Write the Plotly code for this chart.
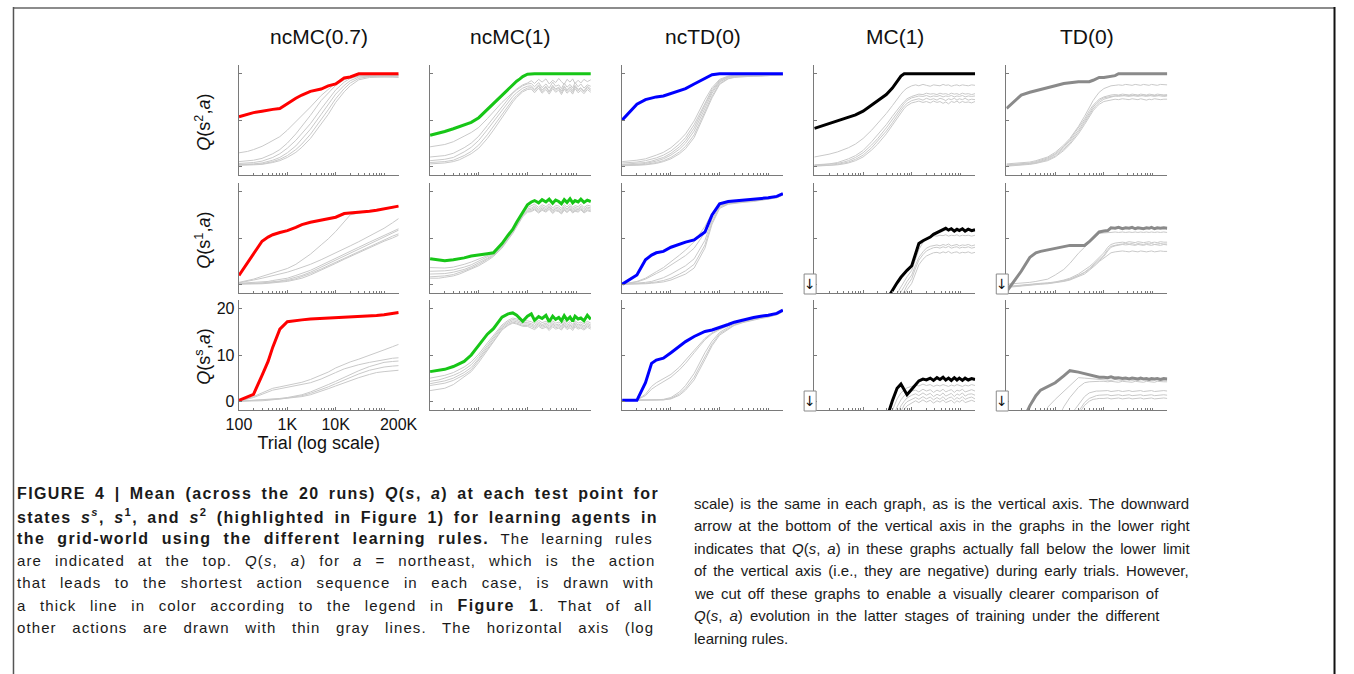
import math
import re
import plotly.graph_objects as go

W, H = 1354, 674

# ---------------- x grids (trial number) ----------------
T_A = [100, 150, 200, 300, 400, 500, 700, 1000, 1500, 2000, 3000, 5000, 7000, 10000,
       15000, 20000, 30000, 50000, 70000, 100000, 150000, 200000]
T_B = [100, 150, 200, 300, 400, 500, 700, 1000, 1500, 2000, 3000, 4000, 5000, 6000, 7000, 8000, 10000,
       12000, 14000, 17000, 20000, 24000, 28000, 33000, 38000, 44000, 50000,
       57000, 65000, 75000, 85000, 95000, 110000, 125000, 145000, 170000, 200000]

rules = ["ncMC(0.7)", "ncMC(1)", "ncTD(0)", "MC(1)", "TD(0)"]
rule_colors = ["#ff0000", "#17c617", "#0000ff", "#000000", "#8a8a8a"]
state_labels = ["<i>Q</i>(s<sup>2</sup>,<i>a</i>)", "<i>Q</i>(s<sup>1</sup>,<i>a</i>)", "<i>Q</i>(s<sup>s</sup>,<i>a</i>)"]
x_ticks = [100, 1000, 10000, 200000]
x_ticktext = ["100", "1K", "10K", "200K"]
y_ticks = [0, 10, 20]

# ---------------- row 1 : state s2 ----------------
ncmc07_s2_main = [10.7, 11.2, 11.6, 11.9, 12.2, 12.3, 12.5, 13.6, 14.7, 15.4, 16.2, 16.7, 17.4, 17.8, 19.1, 19.3, 20, 20, 20, 20, 20, 20]
ncmc07_s2_other = [
    [2.9, 3.2, 3.6, 4.3, 5.0, 5.6, 6.4, 7.8, 9.6, 11.0, 12.8, 15.3, 16.6, 18.0, 19.0, 19.4, 19.6, 19.7, 19.7, 19.7, 19.7, 19.7],
    [1.0, 1.1, 1.3, 1.7, 2.2, 2.7, 3.6, 5.0, 7.0, 8.6, 11.0, 14.2, 15.9, 17.5, 18.7, 19.2, 19.6, 19.8, 19.8, 19.8, 19.8, 19.8],
    [0.6, 0.7, 0.8, 1.1, 1.5, 1.9, 2.7, 3.9, 5.6, 7.0, 9.2, 12.4, 14.5, 16.5, 18.2, 19.0, 19.5, 19.7, 19.7, 19.7, 19.7, 19.6],
    [0.4, 0.4, 0.5, 0.7, 1.0, 1.3, 1.9, 2.9, 4.4, 5.8, 8.0, 11.2, 13.4, 15.6, 17.5, 18.5, 19.3, 19.5, 19.5, 19.5, 19.5, 19.5],
    [0.3, 0.3, 0.4, 0.5, 0.7, 1.0, 1.5, 2.3, 3.6, 4.8, 6.9, 10.0, 12.2, 14.6, 16.8, 18.0, 19.0, 19.4, 19.4, 19.4, 19.3, 19.3],
    [0.2, 0.2, 0.3, 0.4, 0.6, 0.8, 1.2, 1.9, 3.0, 4.1, 6.0, 9.0, 11.2, 13.8, 16.1, 17.4, 18.7, 19.2, 19.3, 19.3, 19.3, 19.2],
]

ncmc1_s2_main = [6.7, 7.1, 7.5, 8.1, 8.6, 9.0, 9.5, 10.5, 12.3, 13.6, 15.4, 16.6, 17.7, 18.4, 18.9, 19.4, 19.9,
                 20, 20, 20, 20, 20, 20, 20, 20, 20, 20, 20, 20, 20, 20, 20, 20, 20, 20, 20, 20]
ncmc1_s2_other = [
    [4.2, 4.4, 4.7, 5.3, 5.9, 6.5, 7.3, 8.4, 10.3, 11.8, 13.8, 15.0, 16.0, 16.7, 17.2, 17.6, 18.0,
     18.5, 17.9, 18.8, 18.2, 18.9, 17.8, 18.6, 18.1, 19.0, 18.3, 17.7, 18.8, 18.2, 18.9, 17.9, 18.6, 18.0, 18.8, 18.3, 18.7],
    [2.0, 2.1, 2.3, 2.8, 3.4, 4.0, 5.0, 6.5, 8.8, 10.5, 13.0, 14.6, 15.8, 16.5, 17.0, 17.4, 17.8,
     17.9, 17.2, 18.1, 17.0, 17.8, 16.9, 18.2, 17.3, 17.6, 16.8, 18.0, 17.1, 17.7, 16.9, 18.1, 17.2, 17.8, 16.9, 17.6, 17.3],
    [1.2, 1.3, 1.5, 1.9, 2.5, 3.1, 4.1, 5.6, 7.9, 9.6, 12.2, 13.9, 15.1, 15.9, 16.4, 16.9, 17.3,
     17.4, 16.6, 17.6, 16.5, 17.3, 16.2, 17.5, 16.7, 17.1, 16.3, 17.4, 16.5, 17.2, 16.4, 17.5, 16.6, 17.0, 16.3, 17.3, 16.7],
    [0.8, 0.9, 1.0, 1.3, 1.8, 2.3, 3.2, 4.6, 6.8, 8.6, 11.3, 13.1, 14.4, 15.3, 15.9, 16.4, 16.9,
     17.0, 16.3, 17.3, 16.1, 17.1, 16.0, 17.2, 16.4, 16.9, 15.9, 17.1, 16.2, 16.8, 16.0, 17.2, 16.3, 16.8, 16.1, 17.0, 16.4],
    [0.5, 0.6, 0.7, 1.0, 1.4, 1.9, 2.7, 3.9, 6.0, 7.8, 10.6, 12.5, 13.9, 14.9, 15.5, 16.1, 16.6,
     16.7, 15.9, 16.9, 15.8, 16.6, 15.6, 16.8, 16.0, 16.5, 15.5, 16.7, 15.8, 16.4, 15.6, 16.8, 15.9, 16.4, 15.7, 16.6, 16.0],
]

nctd0_s2_main = [10.0, 12.0, 13.4, 14.4, 14.8, 15.0, 15.2, 15.7, 16.3, 16.8, 17.8, 19.0, 19.8, 20, 20, 20, 20, 20, 20, 20, 20, 20]
nctd0_s2_other = [
    [1.0, 1.1, 1.3, 1.6, 2.0, 2.4, 3.0, 4.0, 5.6, 7.0, 9.8, 14.4, 17.0, 18.8, 19.5, 19.7, 19.8, 19.8, 19.8, 19.8, 19.8, 19.8],
    [0.7, 0.8, 0.9, 1.2, 1.5, 1.8, 2.4, 3.3, 4.8, 6.2, 9.0, 13.8, 16.6, 18.6, 19.4, 19.6, 19.7, 19.7, 19.7, 19.7, 19.7, 19.8],
    [0.4, 0.5, 0.6, 0.8, 1.1, 1.4, 1.9, 2.8, 4.2, 5.6, 8.3, 13.2, 16.2, 18.4, 19.3, 19.5, 19.6, 19.6, 19.6, 19.7, 19.7, 19.8],
    [0.3, 0.3, 0.4, 0.6, 0.8, 1.1, 1.6, 2.4, 3.7, 5.0, 7.6, 12.6, 15.8, 18.2, 19.2, 19.4, 19.5, 19.6, 19.6, 19.6, 19.7, 19.8],
    [0.2, 0.2, 0.3, 0.4, 0.6, 0.8, 1.2, 1.9, 3.1, 4.3, 6.8, 11.8, 15.2, 17.9, 19.0, 19.3, 19.5, 19.5, 19.6, 19.6, 19.7, 19.8],
    [0.1, 0.1, 0.2, 0.3, 0.4, 0.6, 1.0, 1.6, 2.7, 3.8, 6.2, 11.2, 14.8, 17.7, 18.9, 19.2, 19.4, 19.5, 19.5, 19.6, 19.6, 19.8],
]

mc1_s2_main = [8.2, 8.8, 9.2, 9.8, 10.2, 10.5, 11.1, 11.9, 13.2, 14.2, 15.5, 16.9, 18.2, 19.5, 20, 20, 20,
               20, 20, 20, 20, 20, 20, 20, 20, 20, 20, 20, 20, 20, 20, 20, 20, 20, 20, 20, 20]
mc1_s2_other = [
    [2.0, 2.3, 2.6, 3.1, 3.6, 4.0, 4.8, 6.0, 7.8, 9.2, 11.4, 13.1, 14.6, 15.6, 16.4, 16.9, 17.4,
     17.6, 17.4, 17.7, 17.5, 17.3, 17.6, 17.5, 17.4, 17.7, 17.5, 17.6, 17.3, 17.5, 17.6, 17.4, 17.6, 17.5, 17.4, 17.6, 17.5],
    [0.3, 0.4, 0.5, 0.8, 1.2, 1.6, 2.3, 3.4, 5.3, 6.8, 9.0, 10.8, 12.2, 13.2, 14.0, 14.6, 15.1,
     15.4, 15.6, 15.5, 15.8, 15.6, 15.7, 15.5, 15.8, 15.6, 15.7, 15.5, 15.8, 15.6, 15.7, 15.5, 15.8, 15.6, 15.7, 15.5, 15.7],
    [0.2, 0.3, 0.4, 0.6, 0.9, 1.2, 1.9, 2.9, 4.6, 6.0, 8.3, 10.1, 11.6, 12.7, 13.6, 14.2, 14.8,
     15.0, 15.2, 15.1, 15.3, 15.0, 15.2, 15.1, 15.3, 15.0, 15.2, 15.1, 15.3, 15.0, 15.2, 15.1, 15.3, 15.0, 15.2, 15.1, 15.2],
    [0.1, 0.1, 0.2, 0.4, 0.6, 0.9, 1.5, 2.4, 4.0, 5.4, 7.6, 9.4, 11.0, 12.1, 13.0, 13.6, 14.2,
     14.4, 14.6, 14.3, 14.7, 14.4, 14.6, 14.3, 14.7, 14.5, 14.2, 14.6, 14.4, 14.7, 14.3, 14.6, 14.4, 14.7, 14.3, 14.5, 14.4],
    [0.0, 0.1, 0.1, 0.3, 0.5, 0.7, 1.2, 2.0, 3.5, 4.8, 7.0, 8.8, 10.4, 11.6, 12.5, 13.1, 13.7,
     13.9, 14.1, 13.8, 14.0, 13.7, 14.1, 13.8, 14.0, 13.6, 13.9, 13.5, 14.0, 13.8, 14.1, 13.7, 14.0, 13.8, 13.9, 13.7, 14.0],
]

td0_s2_main = [12.5, 14.2, 15.4, 16.0, 16.3, 16.6, 17.0, 17.4, 17.9, 18.1, 18.3, 18.3, 18.3, 18.6, 18.9, 19.2, 19.2,
               19.3, 19.4, 19.6, 20, 20, 20, 20, 20, 20, 20, 20, 20, 20, 20, 20, 20, 20, 20, 20, 20]
td0_s2_other = [
    [0.5, 0.6, 0.7, 0.9, 1.2, 1.5, 2.0, 3.0, 4.6, 6.0, 8.6, 10.8, 12.8, 14.2, 15.2, 16.0, 16.8,
     17.2, 17.4, 17.5, 17.6, 17.5, 17.7, 17.6, 17.5, 17.7, 17.6, 17.5, 17.7, 17.6, 17.5, 17.7, 17.6, 17.5, 17.7, 17.6, 17.6],
    [0.3, 0.4, 0.5, 0.7, 1.0, 1.3, 1.8, 2.7, 4.3, 5.7, 8.2, 10.2, 12.0, 13.2, 13.9, 14.5, 15.0,
     15.3, 15.4, 15.5, 15.4, 15.6, 15.5, 15.4, 15.6, 15.5, 15.4, 15.6, 15.5, 15.4, 15.6, 15.5, 15.4, 15.6, 15.5, 15.4, 15.5],
    [0.2, 0.3, 0.4, 0.6, 0.8, 1.1, 1.6, 2.5, 4.0, 5.4, 7.8, 9.8, 11.6, 12.8, 13.6, 14.2, 14.8,
     15.0, 15.1, 15.2, 15.1, 15.3, 15.2, 15.1, 15.3, 15.2, 15.1, 15.3, 15.2, 15.1, 15.3, 15.2, 15.1, 15.3, 15.2, 15.1, 15.2],
    [0.1, 0.2, 0.3, 0.5, 0.7, 1.0, 1.4, 2.2, 3.7, 5.0, 7.4, 9.4, 11.2, 12.4, 13.2, 13.8, 14.5,
     14.8, 15.0, 15.2, 15.3, 15.2, 15.4, 15.3, 15.2, 15.4, 15.3, 15.2, 15.4, 15.3, 15.2, 15.4, 15.3, 15.2, 15.4, 15.3, 15.3],
    [0.0, 0.1, 0.2, 0.4, 0.6, 0.8, 1.2, 2.0, 3.4, 4.7, 7.0, 9.0, 10.8, 12.0, 12.8, 13.4, 14.0,
     14.2, 14.4, 14.5, 14.4, 14.6, 14.5, 14.4, 14.6, 14.5, 14.4, 14.6, 14.5, 14.3, 14.5, 14.4, 14.6, 14.5, 14.4, 14.5, 14.5],
]

# ---------------- row 2 : state s1 ----------------
ncmc07_s1_main = [1.9, 4.6, 6.5, 9.3, 10.2, 10.7, 11.2, 11.6, 12.3, 12.9, 13.4, 13.8, 14.1, 14.5, 15.3, 15.4, 15.5, 15.8, 16.0, 16.3, 16.6, 16.9]
ncmc07_s1_other = [
    [0.4, 0.8, 1.1, 1.7, 2.1, 2.5, 2.9, 3.4, 4.3, 5.2, 6.5, 8.5, 9.8, 11.4, 13.6, 15.0, 15.4, 15.7, 15.9, 16.2, 16.5, 16.8],
    [0.3, 0.6, 0.9, 1.3, 1.6, 1.9, 2.2, 2.6, 3.2, 3.6, 4.3, 5.3, 6.0, 6.7, 7.6, 8.3, 9.2, 10.4, 11.2, 12.1, 13.3, 14.2],
    [0.2, 0.3, 0.4, 0.5, 0.6, 0.8, 1.0, 1.3, 1.9, 2.3, 3.0, 4.1, 4.8, 5.6, 6.5, 7.1, 8.0, 9.1, 9.8, 10.6, 11.4, 12.0],
    [0.1, 0.1, 0.2, 0.3, 0.4, 0.5, 0.7, 1.0, 1.5, 1.9, 2.6, 3.7, 4.4, 5.2, 6.1, 6.7, 7.6, 8.7, 9.4, 10.2, 11.1, 11.7],
    [0.1, 0.1, 0.1, 0.2, 0.3, 0.4, 0.6, 0.8, 1.2, 1.6, 2.3, 3.3, 4.0, 4.8, 5.7, 6.3, 7.1, 8.1, 8.8, 9.6, 10.4, 10.9],
    [0.0, 0.0, 0.1, 0.1, 0.2, 0.3, 0.4, 0.6, 1.0, 1.3, 2.0, 3.0, 3.7, 4.5, 5.4, 6.0, 6.8, 7.8, 8.5, 9.3, 10.0, 10.6],
]

ncmc1_s1_main = [5.5, 5.3, 5.1, 5.3, 5.5, 5.7, 6.1, 6.4, 6.6, 6.8, 8.8, 10.6, 11.9, 13.4, 14.6, 15.7, 17.2,
                 17.8, 18.1, 17.6, 18.3, 17.8, 18.4, 17.5, 18.2, 17.9, 17.4, 18.3, 17.7, 18.5, 17.6, 18.1, 17.8, 18.4, 17.7, 18.2, 17.9]
ncmc1_s1_other = [
    [3.6, 3.5, 3.5, 3.7, 4.0, 4.3, 4.8, 5.4, 6.2, 6.9, 8.6, 10.3, 11.8, 13.2, 14.5, 15.5, 16.6,
     16.9, 17.3, 16.6, 17.2, 16.8, 17.4, 16.5, 17.1, 16.9, 16.4, 17.2, 16.7, 17.3, 16.6, 17.0, 16.8, 17.3, 16.6, 17.1, 16.9],
    [2.8, 2.8, 2.9, 3.1, 3.4, 3.7, 4.2, 5.0, 5.9, 6.6, 8.4, 10.1, 11.6, 13.0, 14.2, 15.2, 16.3,
     16.5, 16.9, 16.2, 16.8, 16.4, 17.0, 16.1, 16.7, 16.5, 16.0, 16.8, 16.3, 16.9, 16.2, 16.6, 16.4, 16.9, 16.2, 16.7, 16.5],
    [2.2, 2.2, 2.3, 2.6, 2.9, 3.2, 3.8, 4.6, 5.6, 6.4, 8.2, 9.9, 11.4, 12.8, 14.0, 15.0, 16.0,
     16.2, 16.6, 15.9, 16.5, 16.1, 16.7, 15.8, 16.4, 16.2, 15.7, 16.5, 16.0, 16.6, 15.9, 16.3, 16.1, 16.6, 15.9, 16.4, 16.2],
    [1.6, 1.7, 1.8, 2.1, 2.5, 2.9, 3.5, 4.3, 5.4, 6.2, 8.0, 9.7, 11.2, 12.6, 13.8, 14.8, 15.8,
     15.9, 16.3, 15.6, 16.2, 15.8, 16.4, 15.5, 16.1, 15.9, 15.4, 16.2, 15.7, 16.3, 15.6, 16.0, 15.8, 16.3, 15.6, 16.1, 15.9],
    [1.3, 1.3, 1.5, 1.8, 2.2, 2.6, 3.2, 4.0, 5.1, 6.0, 7.8, 9.5, 11.0, 12.4, 13.6, 14.6, 15.6,
     15.7, 16.1, 15.4, 16.0, 15.6, 16.2, 15.3, 15.9, 15.7, 15.2, 16.0, 15.5, 16.1, 15.4, 15.8, 15.6, 16.1, 15.4, 15.9, 15.7],
]

nctd0_s1_main = [0.0, 1.2, 2.0, 5.3, 6.3, 6.8, 7.1, 8.0, 8.7, 9.1, 9.6, 11.3, 15.0, 17.4, 17.9, 18.0, 18.2, 18.3, 18.5, 18.7, 19.0, 19.6]
nctd0_s1_other = [
    [0.0, 0.3, 0.6, 1.3, 2.0, 2.7, 3.6, 4.8, 6.3, 7.4, 9.2, 12.5, 15.4, 17.2, 17.7, 17.8, 18.0, 18.2, 18.4, 18.6, 18.9, 19.5],
    [0.0, 0.2, 0.5, 1.1, 1.7, 2.3, 3.1, 4.1, 5.3, 6.2, 7.8, 11.2, 14.8, 17.0, 17.6, 17.7, 17.9, 18.1, 18.3, 18.5, 18.8, 19.4],
    [0.0, 0.1, 0.2, 0.4, 0.6, 0.9, 1.4, 2.2, 3.2, 4.0, 5.5, 9.5, 14.0, 16.8, 17.5, 17.7, 17.9, 18.1, 18.3, 18.5, 18.8, 19.4],
    [0.0, 0.0, 0.1, 0.2, 0.3, 0.5, 0.8, 1.3, 2.2, 2.9, 4.3, 8.5, 13.4, 16.6, 17.4, 17.6, 17.8, 18.0, 18.2, 18.4, 18.7, 19.3],
    [0.0, 0.0, 0.0, 0.1, 0.2, 0.3, 0.5, 0.9, 1.6, 2.2, 3.5, 7.8, 13.0, 16.4, 17.3, 17.5, 17.7, 17.9, 18.1, 18.3, 18.7, 19.3],
]

mc1_s1_main = [-30, -28, -26, -23, -21, -19, -16, -13, -10, -7.5, -3.5, -1.2, 0.3, 1.5, 2.4, 3.0, 4.0,
               6.5, 8.8, 9.4, 9.8, 10.2, 10.8, 11.2, 11.6, 11.9, 12.1, 11.7, 12.0, 11.5, 11.9, 11.6, 12.0, 11.5, 11.9, 11.6, 11.8]
mc1_s1_other = [
    [-40, -37, -34, -30, -27, -24, -20, -16, -12, -9.5, -6, -3.8, -2, -0.6, 0.5, 1.6, 3.0,
     5.5, 7.5, 9.0, 9.8, 10.3, 10.5, 10.4, 10.6, 10.5, 10.7, 10.4, 10.6, 10.5, 10.7, 10.4, 10.6, 10.5, 10.6, 10.4, 10.6],
    [-40, -37, -34, -30, -27, -24, -20, -16, -12, -10, -7, -4.8, -3, -1.6, -0.5, 0.6, 2.0,
     4.2, 5.8, 7.0, 7.8, 8.2, 8.4, 8.5, 8.3, 8.6, 8.4, 8.7, 8.3, 8.5, 8.6, 8.3, 8.5, 8.4, 8.6, 8.3, 8.5],
    [-40, -37, -34, -30, -27, -24, -20, -17, -13, -11, -8, -5.8, -4, -2.6, -1.5, -0.3, 1.2,
     3.5, 5.2, 6.4, 7.2, 7.6, 7.9, 8.0, 7.8, 8.1, 7.9, 8.2, 7.8, 8.0, 8.1, 7.8, 8.0, 7.9, 8.1, 7.8, 8.0],
    [-40, -37, -34, -30, -27, -24, -21, -18, -14, -12, -9, -6.8, -5, -3.6, -2.5, -1.2, 0.2,
     2.5, 4.2, 5.4, 6.1, 6.5, 6.8, 6.9, 6.7, 7.0, 6.8, 7.1, 6.7, 6.9, 7.0, 6.7, 6.9, 6.8, 7.0, 6.7, 6.9],
]

td0_s1_main = [-1.6, 1.0, 2.8, 5.8, 6.8, 7.1, 7.4, 7.7, 8.1, 8.4, 8.4, 8.4, 9.2, 10.0, 10.9, 11.3, 11.5,
               11.6, 12.2, 12.1, 12.3, 12.0, 12.2, 12.1, 12.3, 12.0, 12.2, 12.1, 12.0, 12.2, 12.1, 12.3, 12.0, 12.2, 12.1, 12.2, 12.1]
td0_s1_other = [
    [0.0, 0.1, 0.2, 0.4, 0.6, 0.8, 1.1, 2.0, 3.2, 4.5, 6.7, 8.0, 9.0, 9.8, 10.5, 11.0, 11.1,
     11.1, 11.2, 11.3, 11.2, 11.3, 11.2, 11.3, 11.2, 11.3, 11.2, 11.3, 11.2, 11.3, 11.2, 11.3, 11.2, 11.3, 11.2, 11.3, 11.2],
    [-0.5, -0.3, -0.1, 0.0, 0.1, 0.2, 0.3, 0.5, 0.9, 1.3, 2.2, 3.0, 3.8, 4.5, 5.2, 5.8, 6.8,
     8.0, 8.6, 8.9, 9.0, 9.1, 9.0, 9.2, 9.1, 9.0, 9.2, 9.1, 9.0, 9.1, 9.2, 9.0, 9.1, 9.0, 9.2, 9.1, 9.1],
    [-0.6, -0.4, -0.2, -0.1, 0.0, 0.1, 0.2, 0.4, 0.8, 1.1, 1.9, 2.6, 3.4, 4.1, 4.8, 5.4, 6.3,
     7.5, 8.2, 8.5, 8.6, 8.7, 8.8, 8.7, 8.8, 8.6, 8.8, 8.7, 8.6, 8.8, 8.7, 8.8, 8.6, 8.7, 8.8, 8.7, 8.7],
    [-0.7, -0.5, -0.3, -0.2, -0.1, 0.0, 0.1, 0.3, 0.6, 0.9, 1.6, 2.2, 3.0, 3.6, 4.3, 4.9, 5.6,
     6.3, 6.8, 7.0, 7.1, 7.2, 7.1, 7.0, 7.2, 7.1, 7.0, 7.2, 7.1, 7.0, 7.1, 7.2, 7.0, 7.1, 7.2, 7.1, 7.1],
    [-0.6, -0.4, -0.2, -0.1, 0.0, 0.1, 0.2, 0.4, 0.7, 1.0, 1.8, 2.5, 3.2, 3.9, 4.5, 5.1, 6.0,
     7.2, 8.0, 8.3, 8.5, 8.6, 8.5, 8.6, 8.5, 8.4, 8.6, 8.5, 8.4, 8.6, 8.5, 8.4, 8.6, 8.5, 8.4, 8.6, 8.5],
]

# ---------------- row 3 : state ss ----------------
ncmc07_ss_main = [0.2, 0.9, 1.5, 5.6, 8.6, 11.7, 15.6, 17.2, 17.5, 17.6, 17.8, 17.9, 18.0, 18.1, 18.2, 18.25, 18.3, 18.45, 18.55, 18.7, 18.9, 19.2]
ncmc07_ss_other = [
    [0.0, 0.5, 1.0, 1.8, 2.4, 2.8, 3.1, 3.4, 3.8, 4.1, 4.7, 5.6, 6.3, 7.2, 8.0, 8.5, 9.1, 9.9, 10.5, 11.1, 11.8, 12.3],
    [0.0, 0.4, 0.8, 1.5, 2.0, 2.4, 2.7, 3.0, 3.3, 3.5, 4.0, 4.8, 5.4, 6.2, 7.0, 7.4, 7.9, 8.4, 8.7, 9.0, 9.3, 9.4],
    [0.0, 0.1, 0.2, 0.3, 0.4, 0.5, 0.6, 0.8, 1.1, 1.4, 2.0, 2.9, 3.6, 4.3, 5.2, 5.8, 6.6, 7.5, 8.0, 8.4, 8.6, 8.7],
    [0.0, 0.1, 0.1, 0.2, 0.3, 0.4, 0.5, 0.7, 0.9, 1.2, 1.7, 2.5, 3.1, 3.8, 4.6, 5.2, 5.9, 6.7, 7.1, 7.4, 7.6, 7.7],
    [0.0, 0.0, 0.1, 0.1, 0.2, 0.3, 0.4, 0.6, 0.8, 1.0, 1.4, 2.1, 2.7, 3.3, 4.0, 4.5, 5.1, 5.8, 6.2, 6.4, 6.6, 6.7],
]

ncmc1_ss_main = [6.4, 6.7, 6.9, 7.5, 8.1, 8.6, 10.0, 12.0, 14.5, 15.7, 18.2, 18.9, 19.1, 18.6, 17.8, 17.3, 18.4,
                 18.9, 17.5, 18.3, 17.9, 18.6, 17.2, 18.4, 17.7, 18.1, 17.4, 18.5, 17.6, 18.2, 17.3, 18.4, 17.8, 18.0, 17.4, 18.6, 17.7]
ncmc1_ss_other = [
    [5.0, 5.3, 5.6, 6.2, 6.8, 7.4, 8.5, 10.2, 12.6, 14.2, 16.5, 17.5, 18.0, 17.8, 17.5, 17.4, 17.4,
     17.2, 16.8, 17.5, 17.0, 17.3, 16.6, 17.4, 16.9, 17.1, 16.7, 17.5, 16.8, 17.2, 16.6, 17.4, 16.9, 17.1, 16.7, 17.3, 16.9],
    [4.3, 4.6, 5.0, 5.6, 6.2, 6.8, 7.9, 9.7, 12.1, 13.8, 16.2, 17.2, 17.7, 17.5, 17.2, 17.0, 17.0,
     16.8, 16.4, 17.1, 16.6, 16.9, 16.2, 17.0, 16.5, 16.7, 16.3, 17.1, 16.4, 16.8, 16.2, 17.0, 16.5, 16.7, 16.3, 16.9, 16.5],
    [3.8, 4.1, 4.4, 5.0, 5.6, 6.2, 7.3, 9.2, 11.7, 13.4, 15.9, 16.9, 17.4, 17.2, 16.9, 16.7, 16.7,
     16.5, 16.1, 16.8, 16.3, 16.6, 15.9, 16.7, 16.2, 16.4, 16.0, 16.8, 16.1, 16.5, 15.9, 16.7, 16.2, 16.4, 16.0, 16.6, 16.2],
    [3.4, 3.6, 3.9, 4.5, 5.1, 5.7, 6.8, 8.8, 11.3, 13.0, 15.6, 16.6, 17.1, 16.9, 16.6, 16.4, 16.4,
     16.2, 15.8, 16.5, 16.0, 16.3, 15.6, 16.4, 15.9, 16.1, 15.7, 16.5, 15.8, 16.2, 15.6, 16.4, 15.9, 16.1, 15.7, 16.3, 15.9],
    [2.3, 2.5, 2.8, 3.6, 4.5, 5.2, 6.4, 8.4, 11.0, 12.8, 15.4, 16.4, 16.9, 16.7, 16.4, 16.2, 16.2,
     15.9, 15.5, 16.2, 15.7, 16.0, 15.3, 16.1, 15.6, 15.8, 15.4, 16.2, 15.5, 15.9, 15.3, 16.1, 15.6, 15.8, 15.4, 16.0, 15.6],
]

nctd0_ss_main = [0.2, 0.2, 0.2, 4.0, 8.2, 8.9, 9.3, 10.5, 11.8, 12.9, 14.0, 15.1, 15.4, 15.9, 16.6, 17.1, 17.6, 18.1, 18.4, 18.6, 19.0, 19.7]
nctd0_ss_other = [
    [0.2, 0.2, 0.3, 1.5, 3.2, 4.0, 4.8, 5.8, 7.4, 8.8, 11.0, 13.6, 14.8, 15.6, 16.4, 17.0, 17.5, 18.0, 18.3, 18.5, 18.9, 19.6],
    [0.2, 0.2, 0.3, 1.2, 2.6, 3.3, 4.2, 5.2, 6.8, 8.2, 10.5, 13.3, 14.6, 15.5, 16.3, 16.9, 17.4, 17.9, 18.2, 18.4, 18.8, 19.5],
    [0.2, 0.2, 0.2, 0.2, 0.2, 0.3, 0.4, 0.8, 2.0, 3.4, 6.0, 10.5, 13.0, 14.9, 16.0, 16.7, 17.2, 17.8, 18.1, 18.4, 18.8, 19.5],
    [0.2, 0.2, 0.2, 0.2, 0.2, 0.2, 0.3, 0.6, 1.6, 2.8, 5.2, 9.6, 12.4, 14.6, 15.8, 16.5, 17.1, 17.7, 18.0, 18.3, 18.7, 19.4],
    [0.2, 0.2, 0.2, 0.2, 0.2, 0.2, 0.3, 0.5, 1.3, 2.4, 4.6, 9.0, 12.0, 14.3, 15.6, 16.4, 17.0, 17.6, 17.9, 18.2, 18.7, 19.4],
]

mc1_ss_main = [-40, -38, -35, -32, -29, -26, -22, -18, -14, -11, -4.0, 0.1, 2.8, 3.7, 2.3, 1.4, 2.6,
               3.5, 4.4, 4.8, 4.6, 5.0, 4.5, 5.1, 4.7, 5.2, 4.6, 5.0, 4.5, 5.1, 4.6, 5.0, 4.5, 5.0, 4.6, 4.9, 4.7]
mc1_ss_other = [
    [-40, -37, -34, -31, -28, -25, -21, -17, -13, -10, -5.5, -2.0, 0.5, 1.8, 2.5, 2.9, 3.2,
     3.5, 3.3, 3.7, 3.4, 3.6, 3.2, 3.5, 3.3, 3.6, 3.4, 3.2, 3.5, 3.3, 3.6, 3.4, 3.2, 3.5, 3.3, 3.6, 3.4],
    [-40, -37, -34, -31, -28, -25, -21, -17, -13, -11, -7, -3.5, -1.2, 0.3, 1.2, 1.7, 2.2,
     2.4, 2.0, 2.6, 2.2, 2.5, 1.9, 2.4, 2.1, 2.6, 2.0, 2.3, 2.5, 1.9, 2.4, 2.2, 2.6, 2.0, 2.3, 2.5, 2.2],
    [-40, -37, -34, -31, -28, -25, -21, -18, -14, -12, -8, -5, -2.6, -1.0, 0.0, 0.7, 1.3,
     1.6, 1.2, 1.8, 1.3, 1.7, 1.0, 1.5, 1.2, 1.8, 1.1, 1.4, 1.7, 1.0, 1.6, 1.3, 1.8, 1.1, 1.5, 1.6, 1.3],
    [-40, -37, -34, -31, -28, -25, -22, -19, -15, -13, -9, -6, -3.8, -2.0, -0.8, -0.1, 0.5,
     0.8, 0.4, 1.0, 0.5, 0.9, 0.3, 0.8, 0.4, 1.0, 0.3, 0.7, 0.9, 0.3, 0.8, 0.5, 1.0, 0.4, 0.7, 0.9, 0.5],
    [-40, -37, -34, -31, -28, -25, -22, -19, -16, -14, -10, -7, -4.8, -3.0, -1.8, -1.0, -0.3,
     0.1, -0.3, 0.3, -0.2, 0.2, -0.4, 0.1, -0.2, 0.3, -0.3, 0.0, 0.2, -0.4, 0.1, -0.2, 0.3, -0.3, 0.0, 0.2, -0.1],
]

td0_ss_main = [-15, -9, -5, -1.0, 1.2, 2.4, 3.2, 4.0, 5.5, 6.6, 6.3, 6.0, 5.8, 5.5, 5.3, 5.2, 5.2,
               5.1, 5.3, 5.0, 5.1, 4.9, 5.0, 4.8, 5.0, 4.9, 4.8, 5.0, 4.8, 4.9, 4.7, 4.9, 4.8, 4.9, 4.7, 4.9, 4.8]
td0_ss_other = [
    [-30, -25, -20, -15, -11, -8, -1.3, 0.4, 2.2, 3.5, 5.1, 5.0, 4.9, 4.8, 4.7, 4.7, 4.6,
     4.6, 4.5, 4.7, 4.6, 4.5, 4.6, 4.7, 4.5, 4.6, 4.5, 4.6, 4.7, 4.5, 4.6, 4.5, 4.6, 4.7, 4.5, 4.6, 4.6],
    [-40, -35, -30, -25, -20, -16, -10, -5, -1.2, 0.8, 3.0, 4.0, 4.2, 4.3, 4.3, 4.3, 4.3,
     4.2, 4.3, 4.2, 4.1, 4.3, 4.2, 4.2, 4.1, 4.3, 4.2, 4.2, 4.1, 4.3, 4.2, 4.2, 4.1, 4.3, 4.2, 4.2, 4.2],
    [-40, -35, -30, -25, -20, -16, -12, -8, -5, -3.2, -0.8, 1.0, 1.8, 2.1, 2.2, 2.2, 2.2,
     2.3, 2.1, 2.2, 2.3, 2.1, 2.2, 2.3, 2.1, 2.2, 2.2, 2.3, 2.1, 2.2, 2.2, 2.3, 2.1, 2.2, 2.2, 2.3, 2.2],
    [-40, -35, -30, -25, -20, -17, -13, -10, -7, -5, -2.2, -0.3, 0.6, 1.0, 1.2, 1.3, 1.3,
     1.4, 1.2, 1.3, 1.4, 1.2, 1.3, 1.4, 1.2, 1.3, 1.3, 1.4, 1.2, 1.3, 1.3, 1.4, 1.2, 1.3, 1.3, 1.4, 1.3],
    [-40, -35, -30, -25, -20, -17, -13, -10, -7, -5.5, -2.8, -0.9, 0.0, 0.4, 0.5, 0.6, 0.6,
     0.7, 0.5, 0.6, 0.7, 0.5, 0.6, 0.7, 0.5, 0.6, 0.6, 0.7, 0.5, 0.6, 0.6, 0.7, 0.5, 0.6, 0.6, 0.7, 0.6],
]

# (row, col, x grid, thick line, thin lines)
panels = [
    (0, 0, T_A, ncmc07_s2_main, ncmc07_s2_other),
    (0, 1, T_B, ncmc1_s2_main, ncmc1_s2_other),
    (0, 2, T_A, nctd0_s2_main, nctd0_s2_other),
    (0, 3, T_B, mc1_s2_main, mc1_s2_other),
    (0, 4, T_B, td0_s2_main, td0_s2_other),
    (1, 0, T_A, ncmc07_s1_main, ncmc07_s1_other),
    (1, 1, T_B, ncmc1_s1_main, ncmc1_s1_other),
    (1, 2, T_A, nctd0_s1_main, nctd0_s1_other),
    (1, 3, T_B, mc1_s1_main, mc1_s1_other),
    (1, 4, T_B, td0_s1_main, td0_s1_other),
    (2, 0, T_A, ncmc07_ss_main, ncmc07_ss_other),
    (2, 1, T_B, ncmc1_ss_main, ncmc1_ss_other),
    (2, 2, T_A, nctd0_ss_main, nctd0_ss_other),
    (2, 3, T_B, mc1_ss_main, mc1_ss_other),
    (2, 4, T_B, td0_ss_main, td0_ss_other),
]

# ---------------- layout geometry ----------------
# Target pixel positions; the captured picture is squeezed horizontally
# (x_shown ~ 13.5 + 0.9756 * x_page), so horizontal targets are pre-compensated.
OFF, SC = 13.5, 0.9756
col_px = [(239, 399), (430, 591), (622, 783), (814, 975), (1006, 1167)]
row_px = [(65, 175), (183, 293), (300, 410)]


def px_x(p):
    q = (p - OFF) / SC
    return min(max(q, 0.5), W - 0.5) / W


def px_y(p):
    return 1 - p / H


minor_vals = [v * m for m in (100, 1000, 10000) for v in range(2, 10)] + [100000]

AX = "#7a7a7a"
FONT = "Liberation Sans, Arial, Helvetica, sans-serif"

fig = go.Figure()
layout = {}
for idx, (r, c, xs, main, others) in enumerate(panels):
    n = idx + 1
    xa = "x" if n == 1 else f"x{n}"
    ya = "y" if n == 1 else f"y{n}"
    for ys in others:
        fig.add_trace(go.Scatter(x=xs, y=ys, mode="lines", xaxis=xa, yaxis=ya,
                                 line=dict(color="#c9c9c9", width=1), showlegend=False, hoverinfo="skip"))
    fig.add_trace(go.Scatter(x=xs, y=main, mode="lines", xaxis=xa, yaxis=ya,
                             line=dict(color=rule_colors[c], width=3), showlegend=False))
    labeled = (r == 2 and c == 0)
    xax = dict(
        type="log", range=[math.log10(100) - 0.006, math.log10(200000) + 0.004],
        domain=[px_x(col_px[c][0]), px_x(col_px[c][1])], anchor=ya,
        showline=True, linecolor=AX, linewidth=1, mirror=False,
        ticks="inside", ticklen=3, tickcolor=AX, tickwidth=1,
        tickvals=x_ticks, ticktext=x_ticktext, showticklabels=labeled,
        tickfont=dict(family=FONT, size=16, color="#111"),
        minor=dict(tickvals=minor_vals, ticks="inside", ticklen=2, tickcolor=AX, showgrid=False),
        showgrid=False, zeroline=False,
    )
    if labeled:
        xax["title"] = dict(text="Trial (log scale)", font=dict(family=FONT, size=18, color="#111"), standoff=3)
    layout["xaxis" if n == 1 else f"xaxis{n}"] = xax
    layout["yaxis" if n == 1 else f"yaxis{n}"] = dict(
        range=[-1.9, 21.9], domain=[px_y(row_px[r][1]), px_y(row_px[r][0])], anchor=xa,
        showline=True, linecolor=AX, linewidth=1,
        ticks="inside", ticklen=3, tickcolor=AX, tickvals=y_ticks,
        showticklabels=labeled, tickfont=dict(family=FONT, size=16, color="#111"),
        showgrid=False, zeroline=False,
    )

annotations = []
col_centers = [(a + b) / 2 for a, b in col_px]
for c, name in enumerate(rules):
    annotations.append(dict(text=name, x=px_x(col_centers[c]), y=px_y(37), xref="paper", yref="paper",
                            showarrow=False, xanchor="center", yanchor="middle",
                            font=dict(family=FONT, size=21, color="#111")))
for r, lab in enumerate(state_labels):
    annotations.append(dict(text=lab, x=px_x(203), y=px_y((row_px[r][0] + row_px[r][1]) / 2 + 2),
                            xref="paper", yref="paper", showarrow=False, textangle=-90,
                            xanchor="center", yanchor="middle", font=dict(family=FONT, size=18, color="#111")))

shapes = []
# down-arrow boxes (values below axis in MC(1) and TD(0), rows 2 and 3)
for c in (3, 4):
    for r in (1, 2):
        cx = col_px[c][0] - 4
        cy = row_px[r][1] - 9
        shapes.append(dict(type="rect", xref="paper", yref="paper",
                           x0=px_x(cx - 6), x1=px_x(cx + 6), y0=px_y(cy + 10), y1=px_y(cy - 10),
                           line=dict(color="#8a8a8a", width=1), fillcolor="white", layer="above"))
        annotations.append(dict(text="↓", x=px_x(cx), y=px_y(cy), xref="paper", yref="paper",
                                showarrow=False, xanchor="center", yanchor="middle",
                                font=dict(family="DejaVu Sans, sans-serif", size=14, color="#111")))

# outer frame
shapes.append(dict(type="line", xref="paper", yref="paper", x0=px_x(1.5), x1=px_x(1353), y0=px_y(8), y1=px_y(8),
                   line=dict(color="#8c8c8c", width=2)))
shapes.append(dict(type="line", xref="paper", yref="paper", x0=px_x(1352.5), x1=px_x(1352.5), y0=px_y(7), y1=0,
                   line=dict(color="#111", width=2)))
shapes.append(dict(type="line", xref="paper", yref="paper", x0=px_x(1.5), x1=px_x(1.5), y0=px_y(7), y1=0,
                   line=dict(color="#555", width=1.5)))

# ---------------- caption (justified: word/letter spacing, Arial/Liberation metrics) ----------------
AR = {' ': 278, ',': 278, '.': 278, '(': 333, ')': 333, '-': 333, '=': 584, '|': 260, ';': 278, ':': 278,
      'A': 667, 'B': 667, 'C': 722, 'D': 722, 'E': 667, 'F': 611, 'G': 778, 'H': 722, 'I': 278, 'J': 500,
      'K': 667, 'L': 556, 'M': 833, 'N': 722, 'O': 778, 'P': 667, 'Q': 778, 'R': 722, 'S': 667, 'T': 611,
      'U': 722, 'V': 667, 'W': 944, 'X': 667, 'Y': 667, 'Z': 611,
      'a': 556, 'b': 556, 'c': 500, 'd': 556, 'e': 556, 'f': 278, 'g': 556, 'h': 556, 'i': 222, 'j': 222,
      'k': 500, 'l': 222, 'm': 833, 'n': 556, 'o': 556, 'p': 556, 'q': 556, 'r': 333, 's': 500, 't': 278,
      'u': 556, 'v': 500, 'w': 722, 'x': 500, 'y': 500, 'z': 500}
AB = {' ': 278, ',': 278, '.': 278, '(': 333, ')': 333, '-': 333, '=': 584, '|': 280, ';': 333, ':': 333,
      'A': 722, 'B': 722, 'C': 722, 'D': 722, 'E': 667, 'F': 611, 'G': 778, 'H': 722, 'I': 278, 'J': 556,
      'K': 722, 'L': 611, 'M': 833, 'N': 722, 'O': 778, 'P': 667, 'Q': 778, 'R': 722, 'S': 667, 'T': 611,
      'U': 722, 'V': 667, 'W': 944, 'X': 667, 'Y': 667, 'Z': 611,
      'a': 556, 'b': 611, 'c': 556, 'd': 611, 'e': 556, 'f': 333, 'g': 611, 'h': 611, 'i': 278, 'j': 278,
      'k': 556, 'l': 278, 'm': 889, 'n': 611, 'o': 611, 'p': 611, 'q': 611, 'r': 389, 's': 556, 't': 333,
      'u': 611, 'v': 556, 'w': 778, 'x': 556, 'y': 556, 'z': 500}

CAP = "Liberation Sans, Arial, Helvetica, sans-serif"
CAP_SIZE = 15
BOLD_SIZE = 16
GLYPH_K = 1.03     # rendered glyph advance relative to the metric estimate
LS_LEFT = 1.1      # letter-spacing of regular text, left column
LS_BOLD = 1.4      # letter-spacing of bold text


def text_width(html, ls_reg):
    w, bold, sup = 0.0, False, False
    for tok in re.split(r"(<[^>]+>)", html):
        if tok.startswith("<"):
            t = tok.lower()
            if t == "<b>":
                bold = True
            elif t == "</b>":
                bold = False
            elif t == "<sup>":
                sup = True
            elif t == "</sup>":
                sup = False
            continue
        for ch in tok:
            tab = AB if bold else AR
            size = BOLD_SIZE if bold else CAP_SIZE
            w += tab.get(ch, 556) * size * (0.7 if sup else 1.0) / 1000.0 * GLYPH_K
            w += LS_BOLD if bold else ls_reg
    return w


def strong(s):
    return f'<span style="font-size:{BOLD_SIZE}px;letter-spacing:{LS_BOLD}px"><b>{s}</b></span>'


q_sa = "<i>Q</i>(<i>s</i>, <i>a</i>)"
# (text, right edge in px or None when the line is not justified)
left_lines = [
    (strong(f"FIGURE 4 | Mean (across the 20 runs) {q_sa} at each test point for"), 658),
    (strong("states <i>s<sup>s</sup></i>, <i>s</i><sup>1</sup>, and <i>s</i><sup>2</sup> (highlighted in Figure 1) for learning agents in"), 657),
    (strong("the grid-world using the different learning rules.") + " The learning rules", 652),
    (f"are indicated at the top. {q_sa} for <i>a</i> = northeast, which is the action", 653),
    ("that leads to the shortest action sequence in each case, is drawn with", 652),
    ("a thick line in color according to the legend in " + strong("Figure 1") + ". That of all", 650),
    ("other actions are drawn with thin gray lines. The horizontal axis (log", 652),
]
right_lines = [
    ("scale) is the same in each graph, as is the vertical axis. The downward", 1190),
    ("arrow at the bottom of the vertical axis in the graphs in the lower right", 1190),
    (f"indicates that {q_sa} in these graphs actually fall below the lower limit", 1190),
    ("of the vertical axis (i.e., they are negative) during early trials. However,", 1190),
    ("we cut off these graphs to enable a visually clearer comparison of", 1158),
    (f"{q_sa} evolution in the latter stages of training under the different", 1160),
    ("learning rules.", None),
]


def justify(html, x_left, x_right, ls_reg):
    if x_right is None:
        return html
    plain = re.sub(r"<[^>]+>", "", html)
    gaps = plain.count(" ")
    width_page = (x_right - x_left) / SC
    extra = width_page - text_width(html, ls_reg)
    ws = max(-1.0, extra / max(gaps, 1))
    return f'<span style="word-spacing:{ws:.2f}px;letter-spacing:{ls_reg}px">{html}</span>'


for i, (t, xr) in enumerate(left_lines):
    annotations.append(dict(text=justify(t, 17, xr, LS_LEFT), x=px_x(15.5), y=px_y(493.5 + i * 22.3),
                            xref="paper", yref="paper", showarrow=False, xanchor="left", yanchor="middle",
                            align="left", font=dict(family=CAP, size=CAP_SIZE, color="#1a1a1a")))
for i, (t, xr) in enumerate(right_lines):
    annotations.append(dict(text=justify(t, 693, xr, 0), x=px_x(691.5), y=px_y(503.5 + i * 22.45),
                            xref="paper", yref="paper", showarrow=False, xanchor="left", yanchor="middle",
                            align="left", font=dict(family=CAP, size=CAP_SIZE, color="#1a1a1a")))

fig.update_layout(
    width=W, height=H, margin=dict(l=0, r=0, t=0, b=0),
    paper_bgcolor="white", plot_bgcolor="white", showlegend=False,
    annotations=annotations, shapes=shapes, **layout,
)
fig.write_html("out.html", config={"displayModeBar": False},
               post_script="document.body.style.margin='0px';document.body.style.overflow='hidden';")
